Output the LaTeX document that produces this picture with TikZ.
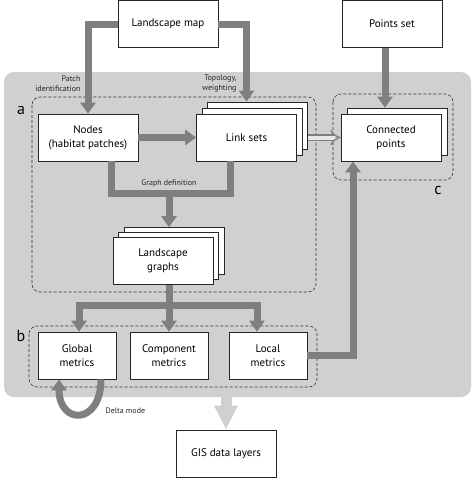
\documentclass[tikz,border=0pt]{standalone}
\usepackage{fontspec}
\setmainfont{PT Sans}
\usetikzlibrary{arrows.meta}
\definecolor{bggray}{HTML}{D0D0D0}
\definecolor{arrgray}{HTML}{7F7F7F}

\begin{document}
\begin{tikzpicture}[x=1pt,y=-1pt,
    box/.style={draw=black!85, fill=white, line width=0.7pt, minimum width=100pt,
      minimum height=47pt, align=center, inner sep=2pt, font=\fontsize{11}{14}\selectfont},
    flow/.style={draw=arrgray, line width=7pt, -{Triangle[width=15pt,length=11pt]}},
    bar/.style={draw=arrgray, line width=7pt},
    hollow/.style={draw=arrgray, line width=1.3pt, double=bggray!50!white,
      double distance=4pt, -{Implies[length=7pt,width=15pt]}},
    gisflow/.style={draw=bggray, line width=11pt, -{Triangle[width=22pt,length=24pt]}},
    group/.style={draw=black!80, line width=0.6pt, dash pattern=on 3pt off 2pt, rounded corners=8pt},
    note/.style={font=\fontsize{8}{10}\selectfont, align=right, text=black!85},
    tag/.style={font=\fontsize{16}{16}\selectfont}]
      \useasboundingbox (0,0) rectangle (474,499);
      \fill[bggray, rounded corners=10pt] (4,72) rectangle (471,397);

      \draw[group] (32,97) rectangle (316,292);
      \draw[group] (29,326) rectangle (317,387);
      \draw[group] (333,94) rectangle (453,180);
      \node[tag] (taga) at (21,110) {a};
      \node[tag] (tagb) at (21,336) {b};
      \node[tag] (tagc) at (438,190) {c};

      \node[box] (lmap) at (168,24) {Landscape map};
      \node[box] (pset) at (392,24) {Points set};
      \node[box] (nodes) at (88,137.5) {Nodes\\(habitat patches)};
      \node[box] (links2) at (257.5,125.5) {};
      \node[box] (links1) at (252,131.5) {};
      \node[box] (links) at (246.5,137.5) {Link sets};
      \node[box] (cpts1) at (397,131.5) {};
      \node[box] (cpts) at (391,137.5) {Connected\\points};
      \node[box] (graphs2) at (174,251) {};
      \node[box] (graphs1) at (168.5,256) {};
      \node[box] (graphs) at (163,261) {Landscape\\graphs};
      \node[box, minimum width=78pt] (glob) at (77,355.5) {Global\\metrics};
      \node[box, minimum width=78pt] (comp) at (169,355.5) {Component\\metrics};
      \node[box, minimum width=78pt] (loc) at (268,355.5) {Local\\metrics};
      \node[box] (gis) at (226,453.5) {GIS data layers};

      \coordinate (gdef) at (169,193);
      \coordinate (mdef) at (169,305);
      \coordinate (gisout) at (226,394);

      \draw[flow] (lmap.west) -| (nodes.north);
      \draw[flow] (lmap.east) -| (links.north |- links2.north);
      \draw[flow] (nodes.east) -- (links.west);
      \draw[bar] ([xshift=23pt]nodes.south) |- (gdef) -| ([xshift=-16pt]links.south);
      \draw[flow] (gdef) -- (gdef |- graphs2.north);
      \draw[bar] (mdef |- graphs.south) -- (mdef);
      \draw[flow] (mdef) -| ([xshift=2pt]glob.north);
      \draw[flow] (mdef) -- (comp.north);
      \draw[flow] (mdef) -| ([xshift=-11pt]loc.north);
      \draw[flow] (loc.east) -| ([xshift=-38pt]cpts.south);
      \draw[flow] ([xshift=-7pt]pset.south) -- ([xshift=-7pt]pset.south |- cpts1.north);
      \draw[hollow] (links2.east |- links.east) -- (cpts.west);
      \draw[flow] ([xshift=24pt]glob.south) .. controls +(0,46) and +(0,46) .. ([xshift=-18pt]glob.south);
      \draw[gisflow] (gisout) -- (gis.north);

      \node[note, anchor=east] (patchlbl) at (84,84) {Patch\\identification};
      \node[note, anchor=east] (topolbl) at (240,84) {Topology,\\weighting};
      \node[note] (gdeflbl) at (169,183) {Graph definition};
      \node[note, anchor=west] (deltalbl) at (102,411) {Delta mode};
\end{tikzpicture}
\end{document}
